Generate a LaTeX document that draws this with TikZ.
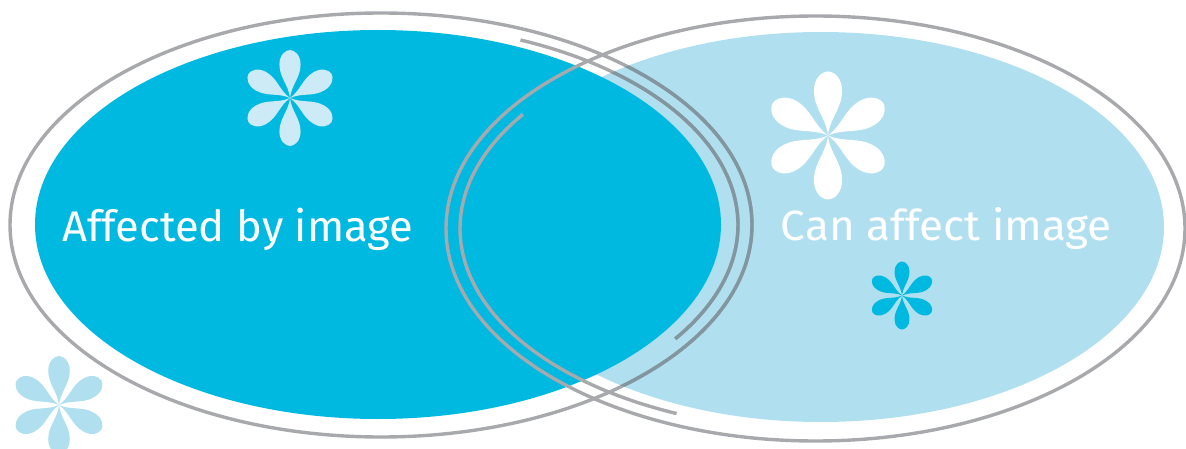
\documentclass[tikz,border=0pt]{standalone}
\usepackage{fontspec}
\setmainfont{Fira Sans}
\definecolor{darkcyan}{RGB}{0,185,225}
\definecolor{lightcyan}{RGB}{176,224,240}
\definecolor{grayline}{RGB}{167,169,172}
\definecolor{grayover}{RGB}{130,150,160}
\definecolor{petalpale}{RGB}{205,235,246}
\newcommand\flowerat[4]{%
  \begin{scope}[shift={(#1,#2)},scale=#3]
    \foreach \a in {0,60,...,300}{%
      \fill[#4,rotate=\a] (0,0) .. controls (0.03,0.28) and (0.22,0.42) .. (0.22,0.7)
        .. controls (0.22,0.9) and (0.09,1) .. (0,1)
        .. controls (-0.09,1) and (-0.22,0.9) .. (-0.22,0.7)
        .. controls (-0.22,0.42) and (-0.03,0.28) .. (0,0) -- cycle;
    }
  \end{scope}}
\newcommand\grayshapes{%
  \draw (381,225) ellipse [x radius=371pt, y radius=212pt];
  \draw (815.5,228.5) ellipse [x radius=369.5pt, y radius=212.5pt];
  \draw plot[domain=-67:34.5, samples=90] ({381+357*cos(\x)},{225+201*sin(\x)});
  \draw plot[domain=113:214.6, samples=90] ({815.5+355.5*cos(\x)},{228.5+201*sin(\x)});
}
\tikzset{
  label/.style={anchor=base west, inner sep=0pt, text=white, font=\fontsize{46}{54}\selectfont}
}
\begin{document}
\begin{tikzpicture}[x=1pt,y=-1pt]
  \useasboundingbox (0,0) rectangle (1186,449);
  % fills
  \fill[lightcyan] (821,227) ellipse [x radius=343pt, y radius=195pt];
  \fill[darkcyan] (378,224.5) ellipse [x radius=343pt, y radius=194.5pt];
  % gray outlines
  \begin{scope}[every path/.style={draw=grayline, line width=3.4pt}]
    \grayshapes
  \end{scope}
  \begin{scope}
    \clip (821,227) ellipse [x radius=343pt, y radius=195pt];
    \begin{scope}[even odd rule]
      \clip (821,227) ellipse [x radius=343pt, y radius=195pt]
            (378,224.5) ellipse [x radius=343pt, y radius=194.5pt];
      \begin{scope}[every path/.style={draw=grayover, line width=3.4pt}]
        \grayshapes
      \end{scope}
    \end{scope}
  \end{scope}
  % flowers
  \flowerat{290}{98}{48}{petalpale}
  \flowerat{59}{405}{49}{lightcyan}
  \flowerat{828}{135.5}{64}{white}
  \flowerat{902}{295.5}{34}{darkcyan}
  % labels
  \node[label] (left) at (62,241.7) {\resizebox{351pt}{33.4pt}{Affected by image}};
  \node[label] (right) at (780.7,240.7) {\resizebox{331pt}{33pt}{Can affect image}};
\end{tikzpicture}
\end{document}
